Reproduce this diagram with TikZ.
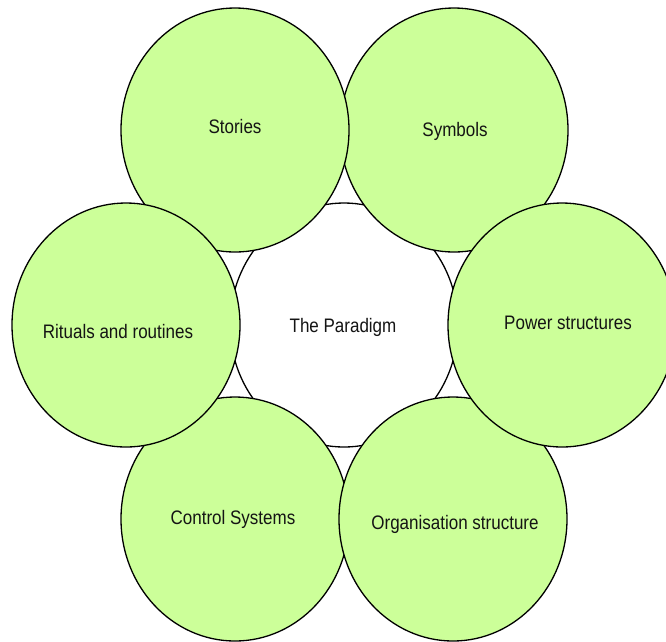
\documentclass[tikz,border=0pt]{standalone}
\usepackage{fontspec}
\setmainfont{Liberation Sans}
\usetikzlibrary{shapes.geometric}
\definecolor{leaf}{HTML}{CCFF99}
% labels are set slightly taller than wide
\newcommand\tall[1]{\scalebox{1}[1.15]{#1}}
\begin{document}
\begin{tikzpicture}[x=1pt,y=-1pt,
  blob/.style={ellipse,draw=black,line width=1.3pt,fill=leaf,
    minimum width=228pt,minimum height=244pt,inner sep=0pt},
  core/.style={blob,fill=white},
  caption/.style={font=\fontsize{17}{20}\selectfont,text=black!92,inner sep=0pt}]
\useasboundingbox (0,0) rectangle (666,641);
\begin{scope}
\clip (0,0) rectangle (666,641);
% centre first, then the surrounding ring in stacking order
\node[core] (paradigm) at (344,325) {};
\node[blob] (symbols)  at (454,130) {};
\node[blob] (stories)  at (235,130) {};
\node[blob] (control)  at (235,519) {};
\node[blob] (organisation) at (453,519) {};
\node[blob] (rituals)  at (126,325) {};
\node[blob] (power)    at (562,325) {};
\end{scope}
\node[caption] (tparadigm) at (343,327) {\tall{The Paradigm}};
\node[caption] (tstories)  at (235,127) {\tall{Stories}};
\node[caption] (tsymbols)  at (455,131) {\tall{Symbols}};
\node[caption] (trituals)  at (118,332) {\tall{Rituals and routines}};
\node[caption] (tpower)    at (568,323) {\tall{Power structures}};
\node[caption] (tcontrol)  at (233,519) {\tall{Control Systems}};
\node[caption] (torg)      at (455,524) {\tall{Organisation structure}};
\end{tikzpicture}
\end{document}
